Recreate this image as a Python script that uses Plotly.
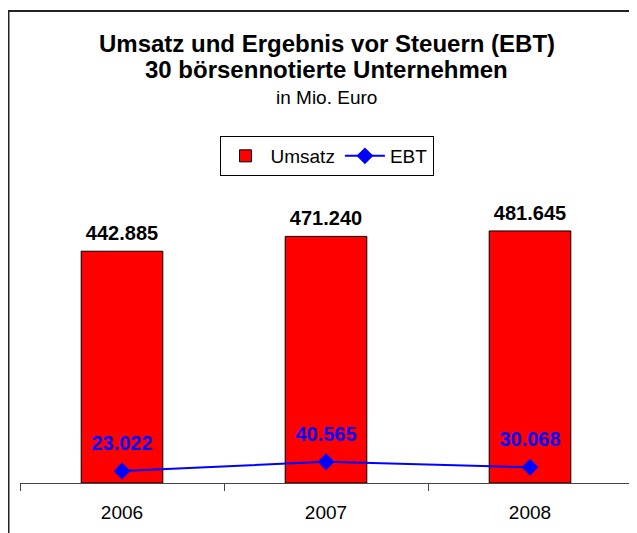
import plotly.graph_objects as go

years = ["2006", "2007", "2008"]
umsatz = [442885, 471240, 481645]
ebt = [23022, 40565, 30068]
umsatz_labels = [f"{v:,}".replace(",", ".") for v in umsatz]
ebt_labels = [f"{v:,}".replace(",", ".") for v in ebt]

title_lines = ["Umsatz und Ergebnis vor Steuern (EBT)", "30 börsennotierte Unternehmen"]
subtitle = "in Mio. Euro"

FONT = "Liberation Sans, Arial, sans-serif"

# figure geometry (page has an 8px body margin)
W, H = 629, 525
L, R, T, B = 12, 5, 161, 50
PW, PH = W - L - R, H - T - B


def px_x(p):
    return (p - L) / PW


def px_y(p):
    return (H - B - p) / PH


fig = go.Figure()
fig.add_trace(go.Bar(
    x=years, y=umsatz, name="Umsatz",
    marker=dict(color="#ff0000", line=dict(color="black", width=1)),
    width=0.4,
))
fig.add_trace(go.Scatter(
    x=years, y=ebt, name="EBT", mode="lines+markers",
    line=dict(color="#0000ff", width=2),
    marker=dict(symbol="diamond", size=13, color="#0000ff"),
    cliponaxis=False,
))
fig.add_trace(go.Scatter(
    x=years, y=umsatz, mode="markers+text", text=umsatz_labels, textposition="top center",
    marker=dict(size=8, opacity=0), showlegend=False, hoverinfo="skip",
    textfont=dict(family=FONT, size=20, color="black", weight="bold"),
    cliponaxis=False,
))
fig.add_trace(go.Scatter(
    x=years, y=ebt, mode="markers+text", text=ebt_labels, textposition="top center",
    marker=dict(size=24, opacity=0), showlegend=False, hoverinfo="skip",
    textfont=dict(family=FONT, size=20, color="#0000ff", weight="bold"),
    cliponaxis=False,
))

fig.add_annotation(xref="paper", yref="paper", x=px_x(318.5), y=px_y(35),
                   text=f"<b>{title_lines[0]}</b>", showarrow=False,
                   xanchor="center", yanchor="middle",
                   font=dict(family=FONT, size=24, color="black"))
fig.add_annotation(xref="paper", yref="paper", x=px_x(318.5), y=px_y(62),
                   text=f"<b>{title_lines[1]}</b>", showarrow=False,
                   xanchor="center", yanchor="middle",
                   font=dict(family=FONT, size=24, color="black"))
fig.add_annotation(xref="paper", yref="paper", x=px_x(318.5), y=px_y(89),
                   text=subtitle, showarrow=False,
                   xanchor="center", yanchor="middle",
                   font=dict(family=FONT, size=19, color="black"))

fig.update_layout(
    width=W, height=H,
    margin=dict(l=L, r=R, t=T, b=B),
    paper_bgcolor="white", plot_bgcolor="white",
    separators=",.",
    font=dict(family=FONT, size=19, color="black"),
    showlegend=True,
    legend=dict(
        orientation="h", x=px_x(318.5), xanchor="center", y=px_y(128), yanchor="top",
        bordercolor="black", borderwidth=1, bgcolor="white", itemwidth=40,
        font=dict(family=FONT, size=19), traceorder="normal",
    ),
    xaxis=dict(
        type="category", range=[-0.5, 2.5], showline=True, linecolor="#444444", linewidth=1,
        ticks="outside", ticklen=7, tickcolor="#444444", tickson="boundaries",
        showgrid=False, ticklabelstandoff=12, tickfont=dict(size=19),
    ),
    xaxis2=dict(
        overlaying="x", anchor="y", range=[-0.5, 2.5], tickmode="array",
        tickvals=[-0.5, 0.5, 1.5, 2.5], ticks="inside", ticklen=6,
        tickcolor="#444444", showticklabels=False, showgrid=False, showline=False,
        zeroline=False,
    ),
    yaxis=dict(range=[0, 600000], visible=False),
)

fig.add_shape(type="rect", xref="paper", yref="paper",
              x0=px_x(0.5), x1=px_x(645), y0=px_y(560), y1=px_y(3),
              line=dict(color="#222222", width=2), fillcolor="rgba(0,0,0,0)", layer="below")

fig.write_html("out.html")
